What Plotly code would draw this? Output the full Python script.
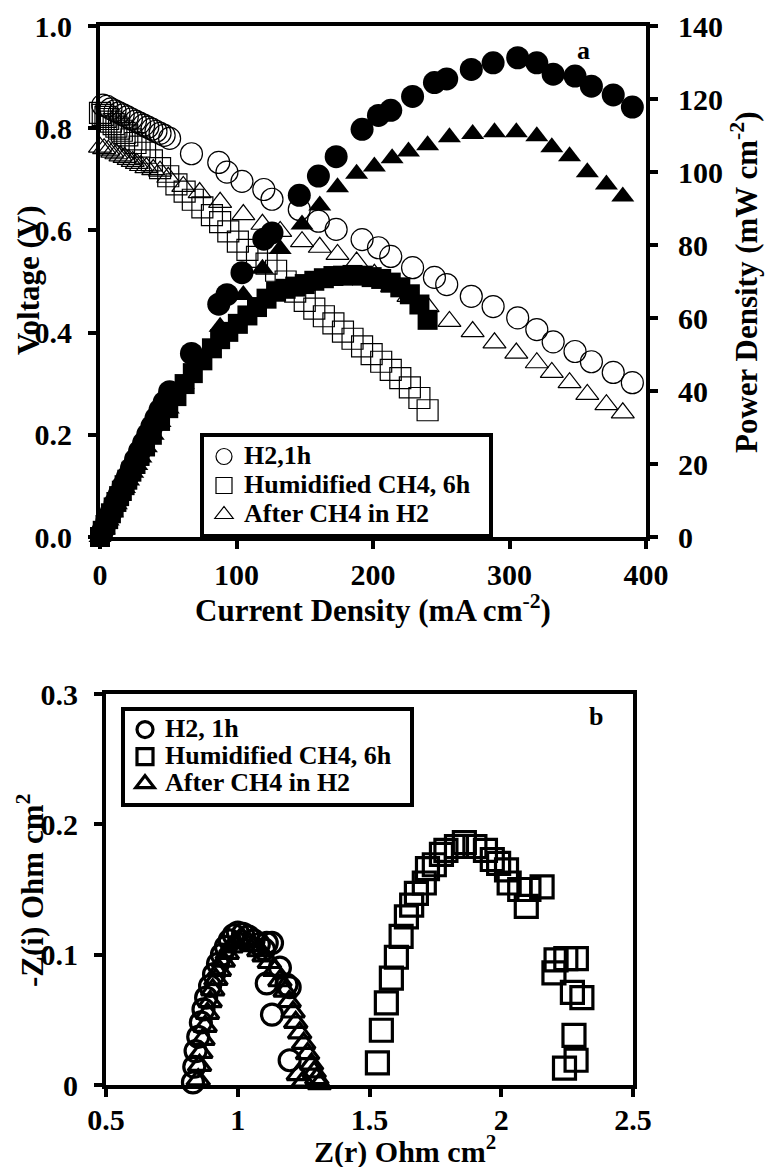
import plotly.graph_objects as go

W, H = 765, 1167
FONT = "Liberation Serif, Times New Roman, serif"

# ---------------- Panel a : polarisation data ----------------
h2_current = [2, 5, 8, 11, 14, 17, 20, 23, 26, 29, 32, 35, 38, 41, 44, 47, 51, 67, 87, 93,
              104, 120, 126, 146, 160, 173, 192, 204, 213, 229, 245, 254, 272, 288, 306, 320,
              332, 348, 360, 376, 390]
h2_voltage = [0.845, 0.843, 0.838, 0.834, 0.830, 0.826, 0.822, 0.818, 0.814, 0.810, 0.806,
              0.802, 0.798, 0.794, 0.790, 0.786, 0.780, 0.750, 0.733, 0.714, 0.696, 0.680,
              0.661, 0.641, 0.618, 0.602, 0.582, 0.566, 0.549, 0.527, 0.508, 0.494, 0.471,
              0.451, 0.429, 0.406, 0.382, 0.363, 0.343, 0.322, 0.302]
h2_power = [1.7, 4.2, 6.7, 9.2, 11.6, 14.0, 16.4, 18.8, 21.2, 23.5, 25.8, 28.1, 30.3, 32.6,
            34.8, 36.9, 39.8, 50.3, 63.8, 66.4, 72.4, 81.6, 83.3, 93.6, 98.9, 104.2, 111.7,
            115.5, 116.9, 120.7, 124.5, 125.5, 128.1, 129.9, 131.3, 129.9, 126.8, 126.3,
            123.5, 121.1, 117.8]

ch4_current = [0, 2, 4, 6, 8, 10, 12, 14, 16, 18, 20, 23, 26, 29, 33, 38, 44, 50, 56, 62, 68,
               75, 82, 88, 94, 101, 108, 115, 122, 129, 136, 143, 150, 157, 164, 171, 178,
               185, 192, 199, 206, 213, 220, 227, 234, 240]
ch4_voltage = [0.830, 0.826, 0.822, 0.818, 0.813, 0.808, 0.803, 0.799, 0.795, 0.791, 0.786,
               0.778, 0.771, 0.764, 0.752, 0.737, 0.722, 0.706, 0.690, 0.676, 0.660, 0.645,
               0.630, 0.616, 0.598, 0.578, 0.562, 0.548, 0.535, 0.521, 0.500, 0.480, 0.462,
               0.447, 0.432, 0.418, 0.402, 0.388, 0.373, 0.358, 0.343, 0.327, 0.311, 0.293,
               0.272, 0.248]
ch4_power = [0.0, 1.7, 3.3, 4.9, 6.5, 8.1, 9.6, 11.2, 12.7, 14.2, 15.7, 17.9, 20.0, 22.2,
             24.8, 28.0, 31.8, 35.3, 38.6, 41.9, 44.9, 48.4, 51.7, 54.2, 56.2, 58.4, 60.7,
             63.0, 65.3, 67.2, 68.0, 68.6, 69.3, 70.2, 70.9, 71.5, 71.6, 71.8, 71.6, 71.2,
             70.7, 69.7, 68.4, 66.5, 63.7, 59.5]

after_current = [0, 3, 6, 9, 12, 15, 18, 21, 24, 27, 30, 34, 39, 44, 50, 61, 73, 88, 105, 119,
                 132, 148, 161, 174, 188, 201, 214, 226, 240, 256, 273, 289, 305, 320, 331,
                 344, 357, 371, 383]
after_voltage = [0.763, 0.760, 0.757, 0.753, 0.750, 0.746, 0.743, 0.739, 0.735, 0.731, 0.727,
                 0.723, 0.719, 0.716, 0.704, 0.686, 0.674, 0.655, 0.631, 0.612, 0.598, 0.578,
                 0.567, 0.553, 0.538, 0.514, 0.490, 0.471, 0.451, 0.422, 0.402, 0.380, 0.360,
                 0.341, 0.322, 0.302, 0.279, 0.259, 0.243]
after_power = [0.0, 2.3, 4.5, 6.8, 9.0, 11.2, 13.4, 15.5, 17.6, 19.7, 21.8, 24.6, 28.0, 31.5,
               35.2, 41.9, 49.2, 57.6, 66.3, 73.5, 78.9, 85.6, 90.8, 95.8, 99.5, 101.5, 103.8,
               105.6, 107.3, 109.5, 110.4, 110.9, 110.9, 109.8, 106.8, 104.3, 99.9, 96.6, 93.3]

a_xticks = [0, 100, 200, 300, 400]
a_vticks = [0.0, 0.2, 0.4, 0.6, 0.8, 1.0]
a_pticks = [0, 20, 40, 60, 80, 100, 120, 140]

# ---------------- Panel b : impedance data ----------------
h2_zr = [0.83, 0.835, 0.84, 0.85, 0.86, 0.87, 0.88, 0.895, 0.91, 0.925, 0.94, 0.955, 0.97,
         0.985, 1.0, 1.02, 1.04, 1.06, 1.08, 1.10, 1.11, 1.13, 1.16, 1.185, 1.197, 1.13,
         1.11, 1.197, 1.22]
h2_zi = [0.002, 0.014, 0.026, 0.037, 0.048, 0.058, 0.067, 0.076, 0.085, 0.093, 0.100, 0.106,
         0.111, 0.115, 0.117, 0.116, 0.114, 0.111, 0.108, 0.104, 0.109, 0.109, 0.090, 0.077,
         0.075, 0.054, 0.078, 0.019, -0.004]

ch4_zr = [1.53, 1.545, 1.564, 1.583, 1.602, 1.62, 1.64, 1.66, 1.678, 1.708, 1.72, 1.746,
          1.773, 1.79, 1.83, 1.86, 1.90, 1.94, 1.966, 1.99, 2.02, 2.03, 2.07, 2.095, 2.105,
          2.155, 2.208, 2.245, 2.285, 2.20, 2.27, 2.306, 2.276, 2.284, 2.24]
ch4_zi = [0.017, 0.042, 0.063, 0.082, 0.098, 0.114, 0.129, 0.138, 0.147, 0.155, 0.166, 0.169,
          0.177, 0.180, 0.183, 0.186, 0.183, 0.180, 0.173, 0.170, 0.165, 0.155, 0.150, 0.137,
          0.150, 0.152, 0.096, 0.097, 0.097, 0.086, 0.071, 0.067, 0.038, 0.019, 0.013]

after_zr = [0.85, 0.855, 0.86, 0.868, 0.876, 0.885, 0.895, 0.905, 0.917, 0.93, 0.945, 0.96,
            0.975, 0.99, 1.005, 1.02, 1.04, 1.06, 1.08, 1.10, 1.12, 1.14, 1.16, 1.18, 1.195,
            1.21, 1.22, 1.235, 1.25, 1.265, 1.28, 1.29, 1.30, 1.31, 1.25, 1.23]
after_zi = [0.004, 0.015, 0.025, 0.035, 0.045, 0.055, 0.064, 0.073, 0.081, 0.088, 0.095,
            0.101, 0.106, 0.109, 0.111, 0.112, 0.110, 0.107, 0.103, 0.099, 0.094, 0.088,
            0.080, 0.072, 0.064, 0.056, 0.048, 0.040, 0.032, 0.024, 0.016, 0.010, 0.005,
            0.001, 0.003, 0.008]

b_xticks = [0.5, 1, 1.5, 2, 2.5]
b_xlabels = ["0.5", "1", "1.5", "2", "2.5"]
b_yticks = [0, 0.1, 0.2, 0.3]
b_ylabels = ["0", "0.1", "0.2", "0.3"]


def px_x(p):
    return p / W


def px_y(p):
    return 1 - p / H


def lg(text, size=26):
    return '<span style="font-size:%dpx">%s&nbsp;&nbsp;</span>' % (size, text)


fig = go.Figure()

thin = dict(color="black", width=1.2)
# open markers (voltage)
fig.add_trace(go.Scatter(x=h2_current, y=h2_voltage, mode="markers", name=lg("H2,1h"),
                         marker=dict(symbol="circle-open", size=22, color="black", line=thin),
                         xaxis="x", yaxis="y", legend="legend", cliponaxis=False))
fig.add_trace(go.Scatter(x=ch4_current, y=ch4_voltage, mode="markers",
                         name=lg("Humidified CH4, 6h"),
                         marker=dict(symbol="square-open", size=21, color="black", line=thin),
                         xaxis="x", yaxis="y", legend="legend", cliponaxis=False))
fig.add_trace(go.Scatter(x=after_current, y=after_voltage, mode="markers",
                         name=lg("After CH4 in H2"),
                         marker=dict(symbol="triangle-up-open", size=20, color="black", line=thin),
                         xaxis="x", yaxis="y", legend="legend", cliponaxis=False))
# filled markers (power density)
fig.add_trace(go.Scatter(x=h2_current, y=h2_power, mode="markers", showlegend=False,
                         marker=dict(symbol="circle", size=23, color="black"),
                         xaxis="x", yaxis="y2", cliponaxis=False))
fig.add_trace(go.Scatter(x=ch4_current, y=ch4_power, mode="markers", showlegend=False,
                         marker=dict(symbol="square", size=20, color="black"),
                         xaxis="x", yaxis="y2", cliponaxis=False))
fig.add_trace(go.Scatter(x=after_current, y=after_power, mode="markers", showlegend=False,
                         marker=dict(symbol="triangle-up", size=20, color="black"),
                         xaxis="x", yaxis="y2", cliponaxis=False))

thick = dict(color="black", width=3.2)
fig.add_trace(go.Scatter(x=h2_zr, y=h2_zi, mode="markers", name=lg("H2, 1h"),
                         marker=dict(symbol="circle-open", size=21, color="black", line=thick),
                         xaxis="x2", yaxis="y3", legend="legend2", cliponaxis=False))
fig.add_trace(go.Scatter(x=ch4_zr, y=ch4_zi, mode="markers", name=lg("Humidified CH4, 6h"),
                         marker=dict(symbol="square-open", size=22, color="black", line=thick),
                         xaxis="x2", yaxis="y3", legend="legend2", cliponaxis=False))
fig.add_trace(go.Scatter(x=after_zr, y=after_zi, mode="markers", name=lg("After CH4 in H2"),
                         marker=dict(symbol="triangle-up-open", size=20, color="black", line=thick),
                         xaxis="x2", yaxis="y3", legend="legend2", cliponaxis=False))

tickfont = dict(family=FONT, size=30, color="black", weight="bold")
common = dict(showline=True, linewidth=4, linecolor="black", ticks="outside", ticklen=8,
              tickwidth=4, tickcolor="black", showgrid=False, zeroline=False,
              tickfont=tickfont, automargin=False)

fig.update_layout(
    width=W, height=H, autosize=False,
    margin=dict(l=0, r=0, t=0, b=0, pad=0, autoexpand=False),
    paper_bgcolor="white", plot_bgcolor="white",
    font=dict(family=FONT, color="black", weight="bold"),
    xaxis=dict(domain=[px_x(100), px_x(646)], range=[0, 400], anchor="y",
               tickvals=a_xticks, mirror=True, ticklabelstandoff=0, **common),
    yaxis=dict(domain=[px_y(537), px_y(26)], range=[0, 1], anchor="x",
               tickvals=a_vticks, tickformat=".1f", ticklabelstandoff=10, **common),
    yaxis2=dict(overlaying="y", side="right", range=[0, 140], anchor="x",
                tickvals=a_pticks, ticklabelstandoff=14, **common),
    xaxis2=dict(domain=[px_x(106), px_x(633)], range=[0.5, 2.5], anchor="y3",
                tickvals=b_xticks, ticktext=b_xlabels, mirror=True, ticklabelstandoff=-3,
                **common),
    yaxis3=dict(domain=[px_y(1085), px_y(694)], range=[0, 0.3], anchor="x2",
                tickvals=b_yticks, ticktext=b_ylabels, mirror=True, ticklabelstandoff=10,
                **common),
    legend=dict(x=px_x(200), y=px_y(433), xanchor="left", yanchor="top",
                bgcolor="white", bordercolor="black", borderwidth=4,
                font=dict(family=FONT, size=20, color="black", weight="bold"),
                tracegroupgap=0),
    legend2=dict(x=px_x(121), y=px_y(707), xanchor="left", yanchor="top",
                 bgcolor="white", bordercolor="black", borderwidth=4,
                 font=dict(family=FONT, size=18.5, color="black", weight="bold"),
                 tracegroupgap=0),
    showlegend=True,
)

title_font = dict(family=FONT, size=31, color="black", weight="bold")
ann = [
    dict(text="Voltage (V)", x=px_x(29), y=px_y(280), textangle=-90),
    dict(text="Power Density (mW cm<sup>-2</sup>)", x=px_x(745), y=px_y(282), textangle=-90),
    dict(text="Current Density (mA cm<sup>-2</sup>)", x=px_x(373), y=px_y(608)),
    dict(text="-Z(i) Ohm cm<sup>2</sup>", x=px_x(30), y=px_y(891), textangle=-90),
]
for a in ann:
    fig.add_annotation(xref="paper", yref="paper", xanchor="center", yanchor="middle",
                       showarrow=False, font=title_font, **a)
fig.add_annotation(text="Z(r) Ohm cm<sup>2</sup>", xref="paper", yref="paper",
                   x=px_x(405), y=px_y(1149), xanchor="center", yanchor="middle",
                   showarrow=False, font=dict(family=FONT, size=30, color="black", weight="bold"))
fig.add_annotation(text="a", xref="paper", yref="paper", x=px_x(592), y=px_y(34),
                   showarrow=False, font=dict(family=FONT, size=26, color="black", weight="bold"))
fig.add_annotation(text="b", xref="paper", yref="paper", x=px_x(605), y=px_y(716),
                   showarrow=False, font=dict(family=FONT, size=26, color="black", weight="bold"))

fig.write_html("out.html")
